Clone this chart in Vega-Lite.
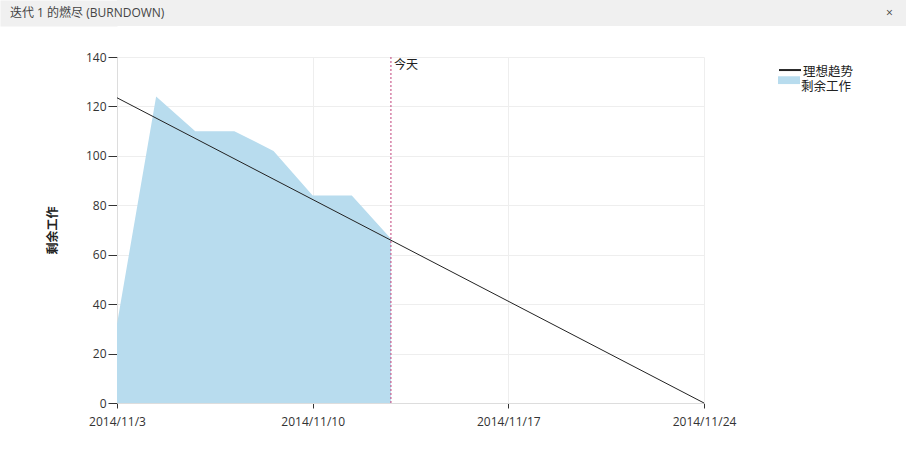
{
  "$schema": "https://vega.github.io/schema/vega-lite/v6.json",
  "padding": {"left": 10, "top": 0, "right": 0, "bottom": 0},
  "background": "#ffffff",
  "config": {
    "font": "'Open Sans', 'Noto Sans CJK SC', sans-serif",
    "view": {"stroke": null},
    "legend": {"padding": 0, "labelFontSize": 12.5, "labelColor": "#222222", "symbolSize": 169, "labelOffset": 5.5, "title": null}
  },
  "datasets": {
    "header": [
      {"text": "迭代 1 的燃尽 (BURNDOWN)", "side": "左"},
      {"text": "×", "side": "右"}
    ],
    "remain": [
      {"date": "2014-11-03T00:00:00Z", "value": 32, "series": "剩余工作"},
      {"date": "2014-11-04T09:36:00Z", "value": 124, "series": "剩余工作"},
      {"date": "2014-11-05T19:12:00Z", "value": 110, "series": "剩余工作"},
      {"date": "2014-11-07T04:48:00Z", "value": 110, "series": "剩余工作"},
      {"date": "2014-11-08T14:24:00Z", "value": 102, "series": "剩余工作"},
      {"date": "2014-11-10T00:00:00Z", "value": 84, "series": "剩余工作"},
      {"date": "2014-11-11T09:36:00Z", "value": 84, "series": "剩余工作"},
      {"date": "2014-11-12T19:12:00Z", "value": 66.5, "series": "剩余工作"}
    ],
    "ideal": [
      {"date": "2014-11-03T00:00:00Z", "value": 123.5, "series": "理想趋势"},
      {"date": "2014-11-24T00:00:00Z", "value": 0, "series": "理想趋势"}
    ],
    "today": [
      {"date": "2014-11-12T19:12:00Z", "label": "今天"}
    ]
  },
  "columns": 1,
  "spacing": 25,
  "resolve": {
    "scale": {"color": "independent", "fill": "independent"},
    "legend": {"color": "independent", "fill": "independent"}
  },
  "concat": [
    {
      "width": 789,
      "height": 26,
      "view": {"fill": "#f0f0f0", "stroke": null},
      "data": {"name": "header"},
      "mark": {"type": "text", "align": "left", "fontSize": 12, "color": "#444444"},
      "encoding": {
        "x": {"field": "side", "type": "nominal", "scale": {"domain": ["左", "右"], "range": [-107, 769], "padding": 0}, "axis": null},
        "y": {
          "datum": 0, "type": "quantitative",
          "scale": {"domain": [-1, 1]},
          "axis": {
            "title": null, "labels": false, "ticks": false, "grid": false,
            "domain": true, "domainColor": "#f0f0f0", "domainWidth": 117, "offset": 58.5
          }
        },
        "text": {"field": "text"}
      }
    },
    {
      "width": 587,
      "height": 346,
      "layer": [
        {
          "data": {"name": "remain"},
          "mark": {"type": "area", "opacity": 1},
          "encoding": {
            "x": {
              "field": "date", "type": "temporal",
              "scale": {"type": "utc", "domain": [{"year": 2014, "month": 11, "date": 3, "utc": true}, {"year": 2014, "month": 11, "date": 24, "utc": true}]},
              "axis": {
                "title": null,
                "values": [
                  {"year": 2014, "month": 11, "date": 3, "utc": true},
                  {"year": 2014, "month": 11, "date": 10, "utc": true},
                  {"year": 2014, "month": 11, "date": 17, "utc": true},
                  {"year": 2014, "month": 11, "date": 24, "utc": true}
                ],
                "format": "%Y/%-m/%-d",
                "grid": true, "gridColor": "#eeeeee",
                "domainColor": "#dddddd",
                "tickColor": "#333333", "tickSize": 5,
                "labelFontSize": 12, "labelColor": "#333333", "labelPadding": 8,
                "labelFlush": false
              }
            },
            "y": {
              "field": "value", "type": "quantitative",
              "scale": {"domain": [0, 140], "nice": false},
              "axis": {
                "values": [0, 20, 40, 60, 80, 100, 120, 140],
                "title": "剩余工作",
                "titleFontWeight": "bold", "titleFontSize": 12, "titleColor": "#222222",
                "titlePadding": 26,
                "grid": true, "gridColor": "#eeeeee",
                "domainColor": "#dddddd",
                "tickColor": "#333333", "tickSize": 9,
                "labelFontSize": 12, "labelColor": "#333333", "labelPadding": 2
              }
            },
            "fill": {
              "field": "series", "type": "nominal",
              "scale": {"domain": ["剩余工作"], "range": ["#b8dcee"]},
              "legend": {
                "orient": "none",
                "legendX": 665.5,
                "legendY": 23.5,
                "symbolType": "M-1.69,-1.65H1.69V-0.45H-1.69Z",
                "symbolStrokeWidth": 0,
                "symbolStrokeColor": "transparent",
                "symbolFillColor": "#b8dcee",
                "symbolOpacity": 1
              }
            }
          }
        },
        {
          "data": {"name": "ideal"},
          "mark": {"type": "line", "strokeWidth": 1},
          "encoding": {
            "x": {"field": "date", "type": "temporal"},
            "y": {"field": "value", "type": "quantitative"},
            "color": {
              "field": "series", "type": "nominal",
              "scale": {"domain": ["理想趋势"], "range": ["#222222"]},
              "legend": {
                "orient": "none",
                "legendX": 665.5,
                "legendY": 7.5,
                "symbolType": "M-1.69,-0.3H1.69",
                "symbolStrokeWidth": 2,
                "symbolOpacity": 1
              }
            }
          }
        },
        {
          "data": {"name": "today"},
          "mark": {"type": "rule", "color": "#c0407a", "strokeWidth": 1, "strokeDash": [2, 2]},
          "encoding": {
            "x": {"field": "date", "type": "temporal"}
          }
        },
        {
          "data": {"name": "today"},
          "mark": {"type": "text", "align": "left", "baseline": "top", "dx": 3, "dy": 3, "fontSize": 12, "color": "#222222"},
          "encoding": {
            "x": {"field": "date", "type": "temporal"},
            "y": {"datum": 140, "type": "quantitative"},
            "text": {"field": "label"}
          }
        }
      ]
    }
  ]
}
